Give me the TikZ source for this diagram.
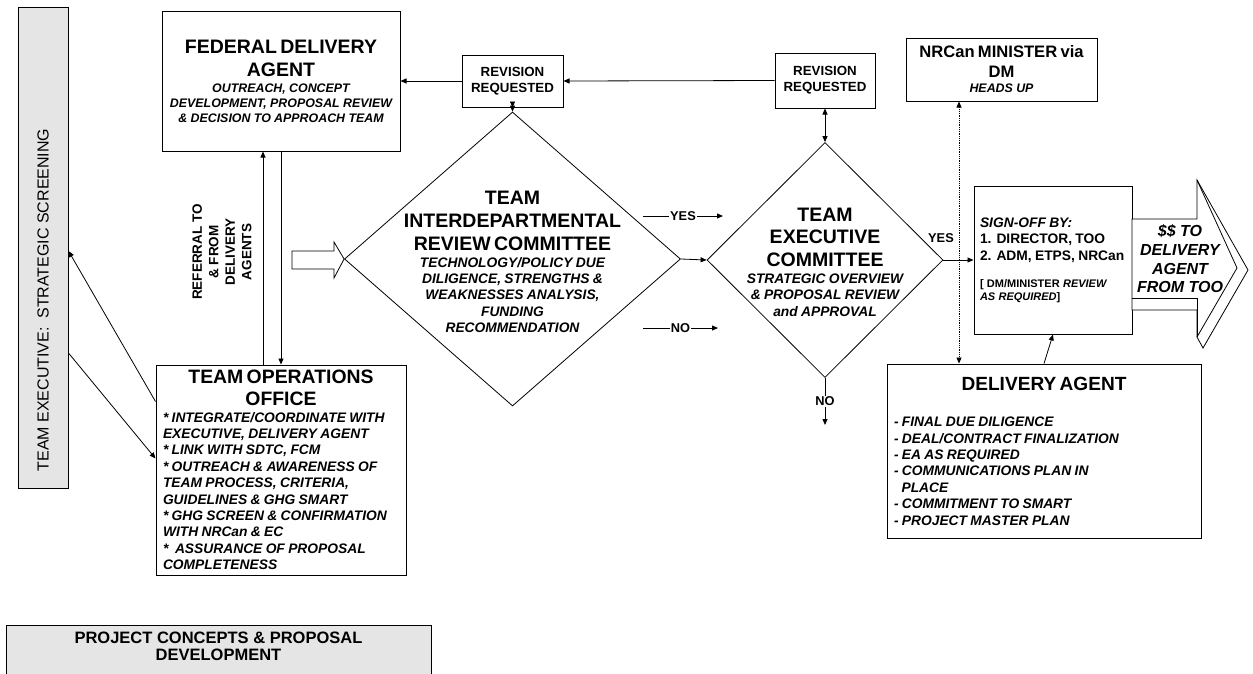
\documentclass[tikz,border=0pt]{standalone}
\usepackage{fontspec}
\setmainfont{Liberation Sans}
\usetikzlibrary{arrows.meta,calc,shapes.geometric}
\definecolor{ScreenClr}{rgb}{0.9,0.9,0.9}
\newcommand{\ttlfont}{\fontsize{19.5}{23}\selectfont\bfseries\upshape}
\newcommand{\itlfont}{\fontsize{13.8}{16.4}\selectfont\bfseries\itshape}
\newcommand{\bodyfont}{\fontsize{13.8}{16.4}\selectfont\bfseries\upshape}
\newcommand{\smlfont}{\fontsize{12.4}{15}\selectfont\bfseries\itshape}

\begin{document}
\begin{tikzpicture}[x=1pt,y=-1pt,
  box/.style={draw,line width=1pt,inner sep=0pt,align=center},
  grey/.style={box,fill=ScreenClr},
  conn/.style={line width=0.8pt,-{Triangle[length=6pt,width=5pt]}},
  both/.style={line width=0.8pt,{Triangle[length=6pt,width=5pt]}-{Triangle[length=6pt,width=5pt]}},
  dia/.style={draw,diamond,line width=0.8pt,inner sep=0pt},
  lbl/.style={font=\fontsize{12.8}{14}\selectfont\bfseries,inner sep=1pt}]
\useasboundingbox (0,0) rectangle (1253,673);
\clip (0,0) rectangle (1253,673);

\node[grey,minimum width=50,minimum height=481] (ss) at (43,247.5) {};
\node[rotate=90,font=\fontsize{16}{19}\selectfont] (sstxt) at (43,300) {TEAM EXECUTIVE:\ \ STRATEGIC SCREENING};

\node[box,text width=238,minimum height=140] (fda) at (281,81)
  {\ttlfont FEDERAL DELIVERY\\AGENT\par\vskip1pt
   \smlfont OUTREACH, CONCEPT\\DEVELOPMENT, PROPOSAL REVIEW\\\& DECISION TO APPROACH TEAM\par};

\node[box,text width=101,minimum height=52,font=\fontsize{13.3}{16}\selectfont\bfseries] (rev1) at (512.5,81) {REVISION\\REQUESTED};
\node[box,text width=100,minimum height=55,font=\fontsize{13.3}{16}\selectfont\bfseries] (rev2) at (825,80.5) {REVISION\\REQUESTED};

\node[box,text width=191,minimum height=63] (nrcan) at (1001.5,69.5)
  {\fontsize{16.6}{20}\selectfont\bfseries NRCan MINISTER via\\DM\par\smlfont HEADS UP\par};

\node[dia,minimum width=336,minimum height=294] (d1) at (512.5,259) {};
\node[align=center,text width=300] (d1txt) at (512.5,262)
  {\ttlfont TEAM\\INTERDEPARTMENTAL\\REVIEW COMMITTEE\par
   \itlfont TECHNOLOGY/POLICY DUE\\DILIGENCE, STRENGTHS \&\\WEAKNESSES ANALYSIS,\\FUNDING\\RECOMMENDATION\par};

\node[dia,minimum width=236,minimum height=235] (d2) at (825,260) {};
\node[align=center,text width=230] (d2txt) at (825,262)
  {\fontsize{19.5}{22.5}\selectfont\bfseries TEAM\\EXECUTIVE\\COMMITTEE\par\vskip1pt
   \itlfont STRATEGIC OVERVIEW\\\& PROPOSAL REVIEW\\and APPROVAL\par};

\node[box,text width=146,minimum width=158,minimum height=148,align=left] (sign) at (1053,260)
  {\itlfont SIGN-OFF BY:\par
   \bodyfont 1. DIRECTOR, TOO\\2. ADM, ETPS, NRCan\par\vskip14pt
   \fontsize{11}{13}\selectfont\bfseries\upshape [ DM/MINISTER \textit{REVIEW}\\\textit{AS REQUIRED}]\par};

\node[box,text width=300,minimum width=314,minimum height=174,align=left] (da) at (1044,451)
  {{\centering\fontsize{19.1}{23}\selectfont\bfseries DELIVERY AGENT\par}\vskip20pt
   \itlfont - FINAL DUE DILIGENCE\\- DEAL/CONTRACT FINALIZATION\\- EA AS REQUIRED\\- COMMUNICATIONS PLAN IN\\\hspace*{7.6pt}PLACE\\- COMMITMENT TO SMART\\- PROJECT MASTER PLAN\par};

\node[box,text width=236,minimum width=250,minimum height=210,align=left] (too) at (281,470)
  {{\centering\fontsize{19.4}{22}\selectfont\bfseries TEAM OPERATIONS\\OFFICE\par}
   \itlfont * INTEGRATE/COORDINATE WITH\\EXECUTIVE, DELIVERY AGENT\\{}* LINK WITH SDTC, FCM\\{}* OUTREACH \& AWARENESS OF\\TEAM PROCESS, CRITERIA,\\GUIDELINES \& GHG SMART\\{}* GHG SCREEN \& CONFIRMATION\\WITH NRCan \& EC\\{}*\ \ ASSURANCE OF PROPOSAL\\COMPLETENESS\par};

\node[rotate=90,align=center,font=\fontsize{13.5}{16.5}\selectfont\bfseries] (reftxt) at (222,252)
  {REFERRAL TO\\\& FROM\\DELIVERY\\AGENTS};

\node[grey,minimum width=425,minimum height=80,anchor=north] (pcd) at (218.5,625) {};
\node[align=center,font=\fontsize{16.5}{16.5}\selectfont\bfseries] (pcdtxt) at (218.5,646.5)
  {PROJECT CONCEPTS \& PROPOSAL\\DEVELOPMENT};

\draw[line width=0.8pt] (292,251) -- (334,251) -- (334,242) -- (d1.west) -- (334,278) -- (334,269) -- (292,269) -- cycle;

\draw[line width=0.8pt,fill=white] (1132,219) -- (1197,219) -- (1197,180) -- (1248,270) -- (1203,348)
  -- (1197,337) -- (1197,310) -- (1132,310) -- cycle;
\draw[line width=0.8pt] (1132,298) -- (1197,298) -- (1197,337);
\draw[line width=0.8pt] (1197,180) -- (1237,268) -- (1197,337);
\node[align=center,font=\fontsize{16}{18.7}\selectfont\bfseries\itshape] (arrtxt) at (1180,259)
  {\$\$ TO\\DELIVERY\\AGENT\\FROM TOO};

\coordinate (yesa) at (643,216);
\coordinate (yesb) at (723,216);
\coordinate (noa) at (643,328);
\coordinate (nob) at (718,328);
\coordinate (noend) at (825,425);

\draw[conn] (rev1.west) -- (fda.east);
\draw[conn] (rev2.west) -- (rev1.east);
\draw[both] (rev1.south) -- (d1.north);
\draw[both] (rev2.south) -- (d2.north);
\draw[conn] (d1.east) -- (d2.west);
\draw[conn] (yesa) -- node[lbl,fill=white] {YES} (yesb);
\draw[conn] (noa) -- node[lbl,fill=white] {NO} (nob);
\draw[conn] (d2.south) -- node[lbl,fill=white] {NO} (noend);
\draw[conn] (d2.east) -- (sign.west);
\node[lbl] (yes2) at (941,238) {YES};
\draw[conn] (da.north) -- (sign.south);
\draw[both,densely dotted] (959,0 |- nrcan.south) -- (959,0 |- da.north);

\draw[conn] (fda.south) -- (too.north);
\draw[conn] ($(too.north)+(-18,0)$) -- ($(fda.south)+(-18,0)$);
\draw[conn] ($(too.north west)+(0,37)$) -- ($(ss.east)+(0,3.5)$);
\draw[conn] ($(ss.east)+(0,105.5)$) -- ($(too.north west)+(0,94)$);

\end{tikzpicture}
\end{document}
